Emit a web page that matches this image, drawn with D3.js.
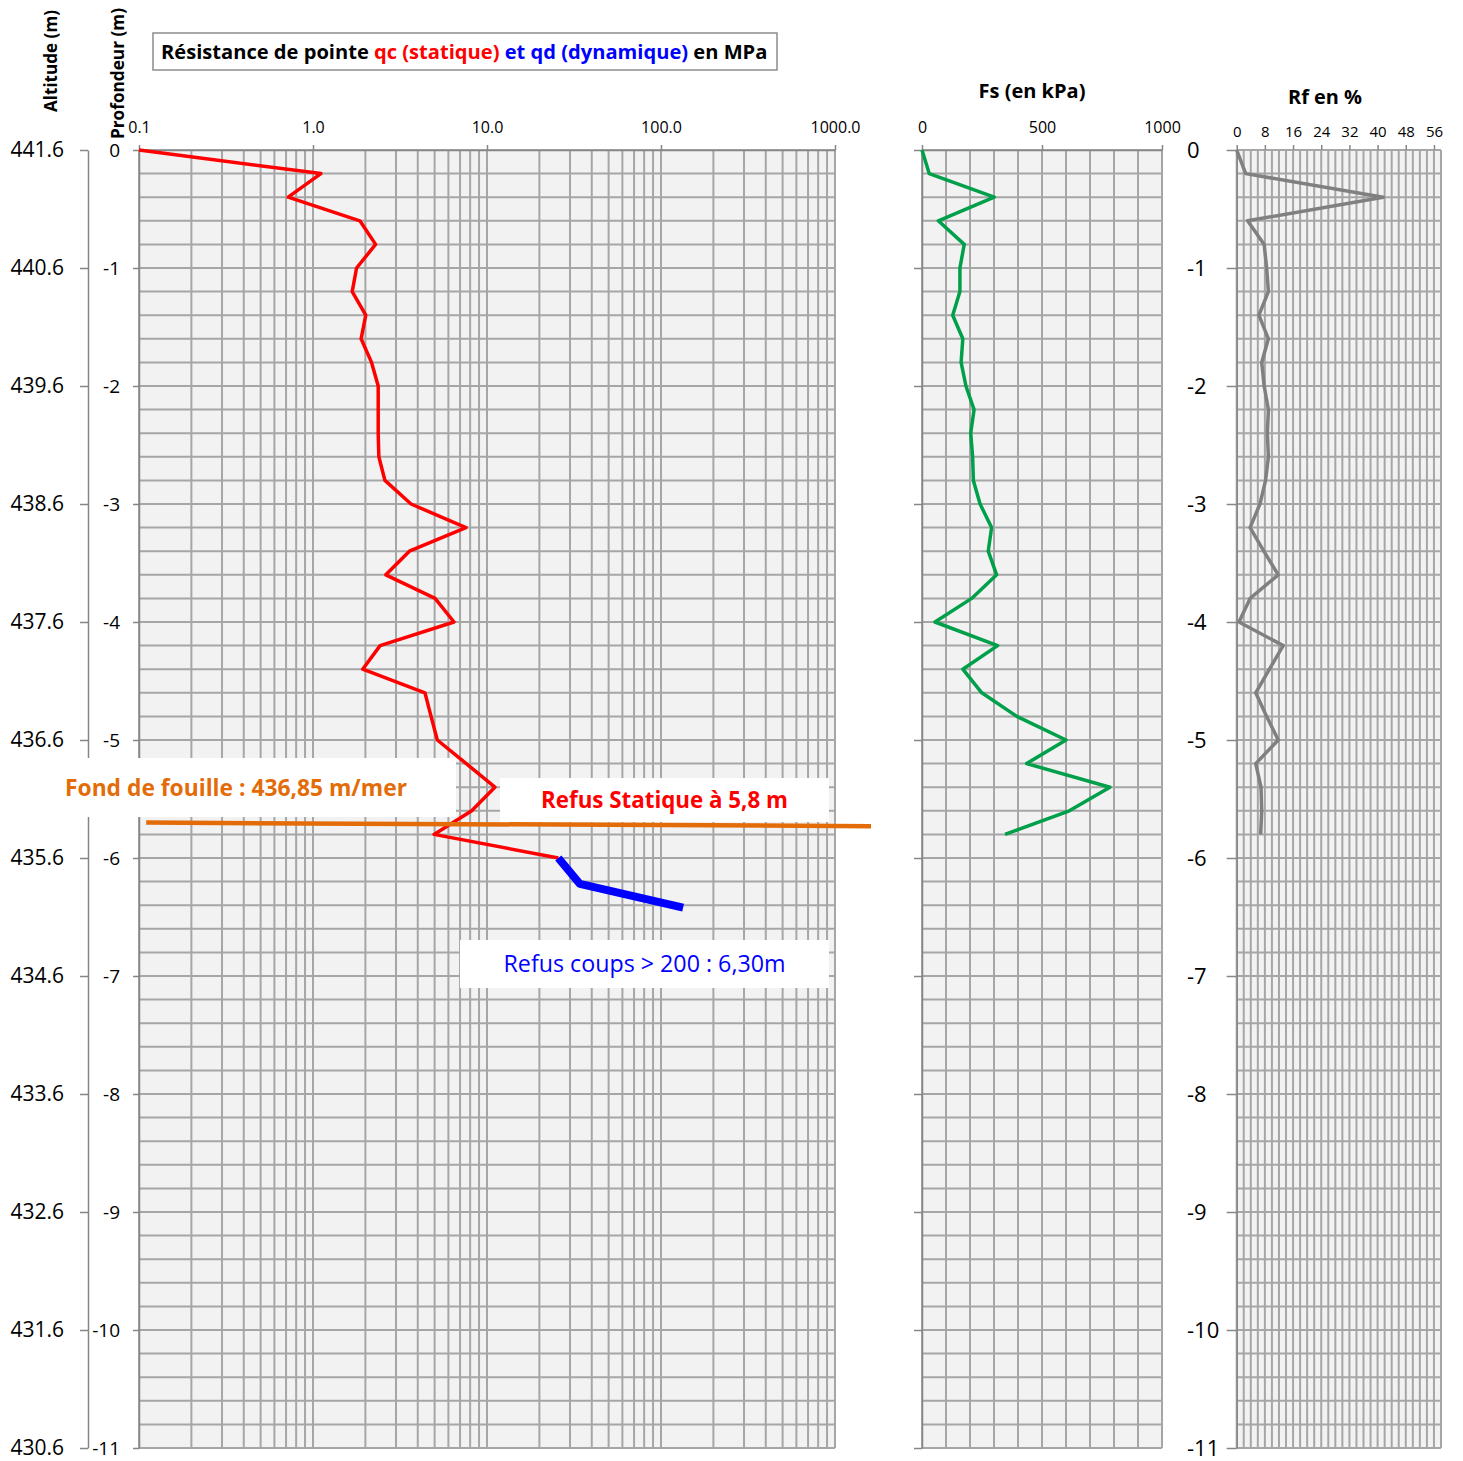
<!DOCTYPE html>
<html>
<head>
<meta charset="utf-8">
<script src="https://cdn.jsdelivr.net/npm/d3@7"></script>
<style>
  body { margin: 0; background: #fff; }
  svg { display: block; font-family: "Open Sans", sans-serif; }
</style>
</head>
<body>
<div id="chart-container"></div>
<script>

// qc (statique), MPa, tous les 0,2 m
var depthQc = [0, 0.2, 0.4, 0.6, 0.8, 1.0, 1.2, 1.4, 1.6, 1.8, 2.0, 2.2, 2.4, 2.6, 2.8, 3.0,
    3.2, 3.4, 3.6, 3.8, 4.0, 4.2, 4.4, 4.6, 4.8, 5.0, 5.2, 5.4, 5.6, 5.8, 6.0];
var qc = [0.1, 1.11, 0.72, 1.86, 2.29, 1.78, 1.68, 2.01, 1.89, 2.17, 2.37, 2.37, 2.37, 2.39, 2.59, 3.66,
    7.57, 3.58, 2.62, 5.03, 6.46, 2.43, 1.93, 4.40, 4.77, 5.18, 7.6, 11.1, 8.17, 4.96, 25.7];

// qd (dynamique), MPa
var depthQd = [6.0, 6.22, 6.42];
var qd = [25.7, 34.2, 134];

// Fs en kPa et Rf en %
var depthFs = [0, 0.2, 0.4, 0.6, 0.8, 1.0, 1.2, 1.4, 1.6, 1.8, 2.0, 2.2, 2.4, 2.6, 2.8, 3.0,
    3.2, 3.4, 3.6, 3.8, 4.0, 4.2, 4.4, 4.6, 4.8, 5.0, 5.2, 5.4, 5.6, 5.8];
var fs = [0, 30, 301, 68, 176, 158, 158, 128, 170, 163, 183, 217, 203, 211, 214, 242,
    290, 276, 311, 207, 54, 315, 170, 249, 395, 600, 436, 783, 614, 346];
var rf = [0, 2.55, 41.6, 3.1, 7.8, 8.5, 9.0, 6.3, 9.0, 7.1, 7.8, 9.0, 8.7, 9.0, 8.2, 6.6,
    3.8, 7.7, 11.8, 3.8, 0.65, 13.2, 9.3, 5.4, 8.5, 11.8, 5.4, 6.9, 7.1, 6.8];

// axes
var depthTicks = [0, 1, 2, 3, 4, 5, 6, 7, 8, 9, 10, 11];
var altitudeTop = 441.6;
var qcTicks = [0.1, 1, 10, 100, 1000];
var fsTicks = [0, 500, 1000];
var rfTicks = [0, 8, 16, 24, 32, 40, 48, 56];

// fond de fouille (trait orange)
var fouilleQc = [0.11, 1610];
var fouilleDepth = [5.70, 5.73];

var gridColor = "#a6a6a6", axisColor = "#868686", panelFill = "#f2f2f2";

var svg = d3.select("#chart-container")
    .append("svg")
    .attr("width", 1463)
    .attr("height", 1461);

var yTop = 150, yBottom = 1448;

var yDepth = d3.scaleLinear().domain([0, 11]).range([yTop, yBottom]);
var yAlt = d3.scaleLinear().domain([altitudeTop, altitudeTop - 11]).range([yTop, yBottom]);

var xQc = d3.scaleLog().domain([0.1, 1000]).range([139, 835]);
var xFs = d3.scaleLinear().domain([0, 1000]).range([922, 1162]);
var xRf = d3.scaleLinear().domain([0, 58]).range([1236.7, 1441]);

var hLines = yDepth.ticks(55);

var fit = function (sel, w) {
    var l = sel.node().getComputedTextLength();
    var f = parseFloat(sel.attr("font-size"));
    sel.attr("font-size", (f * w / l).toFixed(2));
}

var drawPanel = function (x, vLines) {
    var g = svg.append("g");
    var r = x.range();
    g.append("rect")
        .attr("x", r[0]).attr("y", yTop)
        .attr("width", r[1] - r[0]).attr("height", yBottom - yTop)
        .attr("fill", panelFill);
    g.selectAll("line.h")
        .data(hLines)
        .enter()
        .append("line")
        .attr("x1", r[0]).attr("x2", r[1])
        .attr("y1", function (d) { return yDepth(d); })
        .attr("y2", function (d) { return yDepth(d); })
        .attr("stroke", gridColor).attr("stroke-width", 2);
    g.selectAll("line.v")
        .data(vLines)
        .enter()
        .append("line")
        .attr("x1", function (d) { return x(d); })
        .attr("x2", function (d) { return x(d); })
        .attr("y1", yTop).attr("y2", yBottom)
        .attr("stroke", gridColor).attr("stroke-width", 2);
    return g;
}

drawPanel(xQc, xQc.ticks());
drawPanel(xFs, xFs.ticks(10));
drawPanel(xRf, d3.range(0, 59, 2));

var styleAxis = function (g, size) {
    g.select(".domain").attr("stroke", axisColor).attr("stroke-width", 1.5);
    g.selectAll(".tick line").attr("stroke", axisColor).attr("stroke-width", 1.5);
    g.selectAll(".tick text")
        .attr("fill", "#000")
        .attr("font-size", size)
        .attr("font-family", "Open Sans, sans-serif");
}

// top axes
svg.append("g")
    .attr("transform", "translate(0," + yTop + ")")
    .call(d3.axisTop(xQc).tickValues(qcTicks).tickFormat(d3.format(".1f")).tickSize(5).tickPadding(12).tickSizeOuter(0))
    .call(styleAxis, 16);

svg.append("g")
    .attr("transform", "translate(0," + yTop + ")")
    .call(d3.axisTop(xFs).tickValues(fsTicks).tickFormat(d3.format("d")).tickSize(5).tickPadding(12).tickSizeOuter(0))
    .call(styleAxis, 16);

svg.append("g")
    .attr("transform", "translate(0," + yTop + ")")
    .call(d3.axisTop(xRf).tickValues(rfTicks).tickSize(5).tickPadding(8).tickSizeOuter(0))
    .call(function (g) { styleAxis(g, 15); g.select(".domain").remove(); });

// left axes
var depthFormat = function (d) { return d === 0 ? "0" : "-" + d; };

svg.append("g")
    .attr("transform", "translate(88,0)")
    .call(d3.axisLeft(yAlt).tickValues(depthTicks.map(function (d) { return altitudeTop - d; }))
        .tickFormat(d3.format(".1f")).tickSize(8).tickPadding(16).tickSizeOuter(0))
    .call(styleAxis, 21);

svg.append("g")
    .attr("transform", "translate(139,0)")
    .call(d3.axisLeft(yDepth).tickValues(depthTicks).tickFormat(depthFormat).tickSize(6).tickPadding(13).tickSizeOuter(0))
    .call(styleAxis, 19);

svg.append("g")
    .attr("transform", "translate(922,0)")
    .call(d3.axisLeft(yDepth).tickValues(depthTicks).tickFormat("").tickSize(8).tickSizeOuter(0))
    .call(styleAxis, 19);

// Rf: labels calés à gauche
svg.append("g")
    .attr("transform", "translate(" + xRf(0) + ",0)")
    .call(d3.axisLeft(yDepth).tickValues(depthTicks).tickFormat(depthFormat).tickSize(10).tickSizeOuter(0))
    .call(styleAxis, 22)
    .call(function (g) {
        g.selectAll(".tick text")
            .attr("text-anchor", "start")
            .attr("x", 1187 - xRf(0));
    });

// axis titles
var t1 = svg.append("text")
    .attr("transform", "translate(57,112) rotate(-90)")
    .attr("font-size", 17).attr("font-weight", "bold")
    .text("Altitude (m)");
fit(t1, 102);

var t2 = svg.append("text")
    .attr("transform", "translate(124,139) rotate(-90)")
    .attr("font-size", 17).attr("font-weight", "bold")
    .text("Profondeur (m)");
fit(t2, 131);

// title box
svg.append("rect")
    .attr("x", 153).attr("y", 33).attr("width", 624).attr("height", 37)
    .attr("fill", "#fff").attr("stroke", "#8c8c8c").attr("stroke-width", 1.5);

var title = svg.append("text")
    .attr("x", 161).attr("y", 59)
    .attr("font-size", 19).attr("font-weight", "bold");
title.append("tspan").attr("fill", "#000").text("Résistance de pointe ");
title.append("tspan").attr("fill", "#ff0000").text("qc (statique)");
title.append("tspan").attr("fill", "#0000ff").text(" et qd (dynamique)");
title.append("tspan").attr("fill", "#000").text(" en MPa");
fit(title, 607);

var fsTitle = svg.append("text")
    .attr("x", 1032).attr("y", 98).attr("text-anchor", "middle")
    .attr("font-size", 19).attr("font-weight", "bold")
    .text("Fs (en kPa)");
fit(fsTitle, 107);

var rfTitle = svg.append("text")
    .attr("x", 1325).attr("y", 104).attr("text-anchor", "middle")
    .attr("font-size", 19).attr("font-weight", "bold")
    .text("Rf en %");
fit(rfTitle, 74);

// annotation boxes
var box = function (x, y, w, h, label, color, weight, tw) {
    svg.append("rect")
        .attr("x", x).attr("y", y).attr("width", w).attr("height", h)
        .attr("fill", "#fff");
    var t = svg.append("text")
        .attr("x", x + w / 2).attr("y", y + h / 2)
        .attr("dy", "0.36em")
        .attr("text-anchor", "middle")
        .attr("font-size", 21).attr("font-weight", weight)
        .attr("fill", color)
        .text(label);
    fit(t, tw);
}

box(16, 758, 440, 59, "Fond de fouille : 436,85 m/mer", "#e36c09", "bold", 342);
box(500, 778, 329, 44, "Refus Statique à 5,8 m", "#ff0000", "bold", 247);
box(460, 940, 369, 48, "Refus coups > 200 : 6,30m", "#0000ff", "normal", 282);

// profiles
var profile = function (x, xs, ys, color, w) {
    var line = d3.line()
        .x(function (d) { return x(d[0]); })
        .y(function (d) { return yDepth(d[1]); });
    svg.append("path")
        .datum(d3.zip(xs, ys))
        .attr("d", line)
        .attr("fill", "none")
        .attr("stroke", color)
        .attr("stroke-width", w)
        .attr("stroke-linejoin", "round");
}

profile(xQc, qc, depthQc, "#ff0000", 3.5);
profile(xQc, qd, depthQd, "#0000ff", 8);
profile(xFs, fs, depthFs, "#00a04a", 3.5);
profile(xRf, rf, depthFs, "#808080", 3.5);
profile(xQc, fouilleQc, fouilleDepth, "#e36c09", 4.5);

</script>
</body>
</html>
